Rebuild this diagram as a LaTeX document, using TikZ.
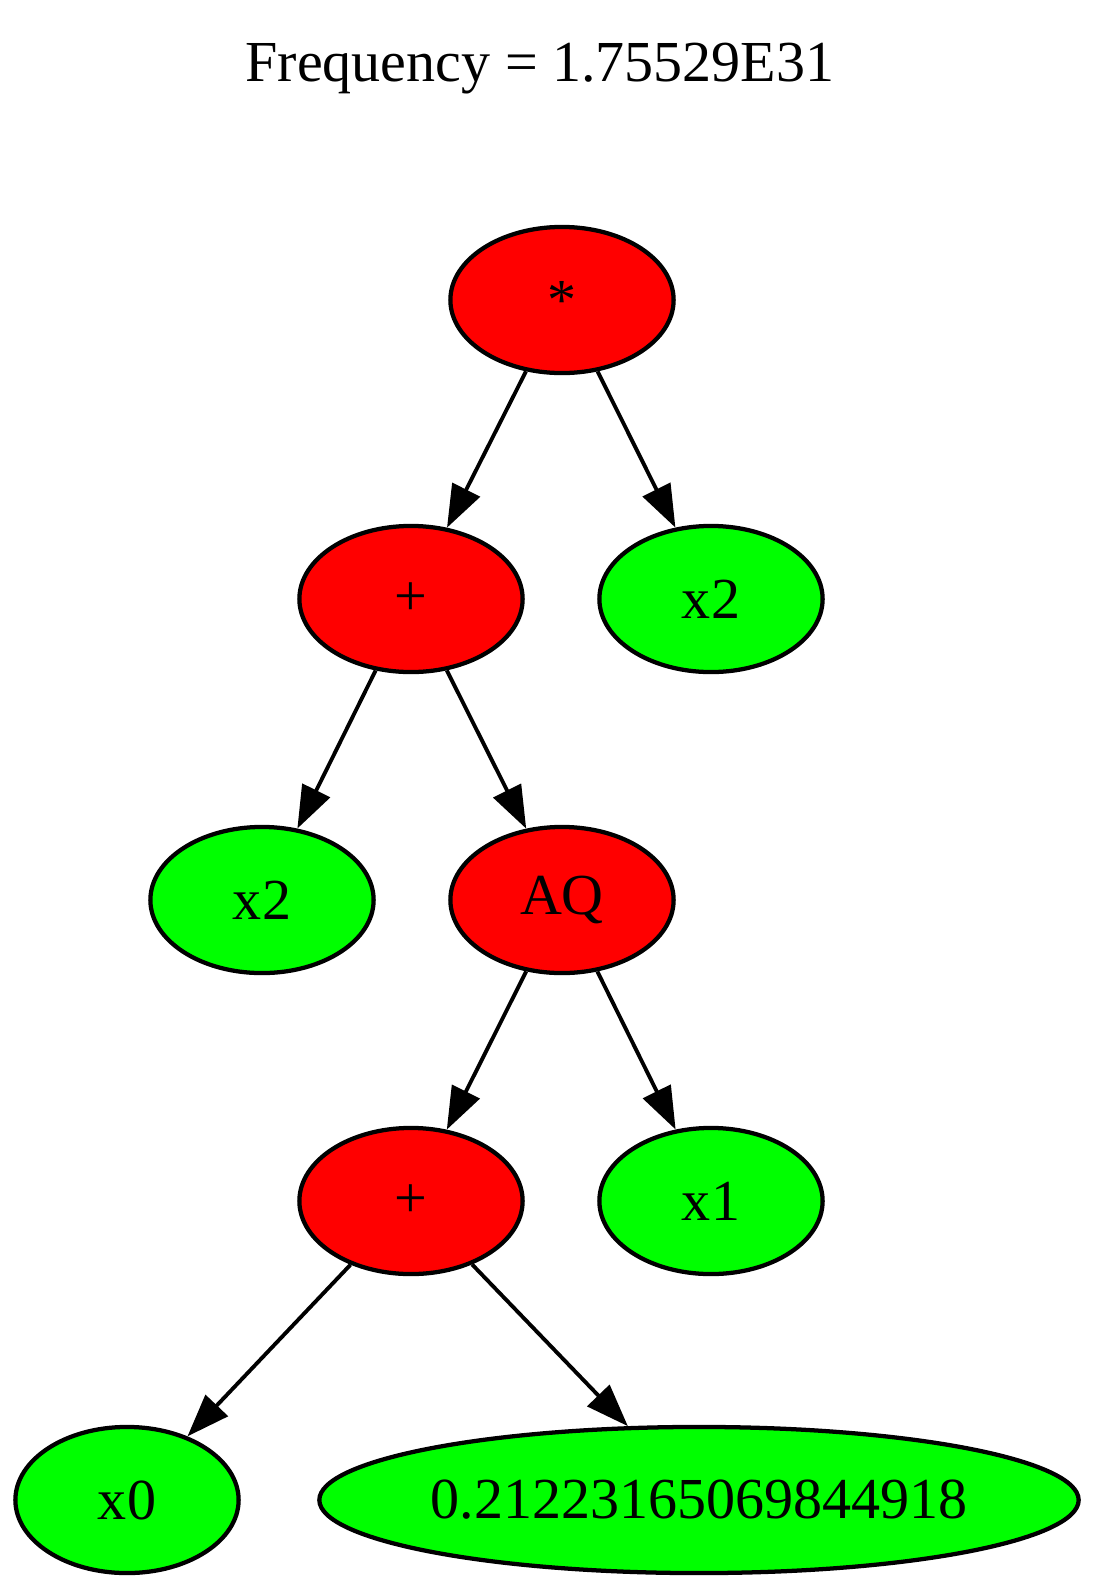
\documentclass[tikz,border=0pt]{standalone}
\usepackage{fontspec}
\setmainfont{Liberation Serif}
\usetikzlibrary{shapes.geometric,arrows.meta}
\definecolor{opred}{RGB}{255,0,0}
\definecolor{leafgreen}{RGB}{0,255,0}
\begin{document}
\begin{tikzpicture}[x=0.24636pt,y=-0.24636pt,
  labelfont/.style={font=\fontsize{14.3}{16}\selectfont},
  treenode/.style={ellipse,draw=black,line width=1.05pt,minimum width=55pt,
    minimum height=36pt,inner sep=0pt,labelfont},
  opnode/.style={treenode,fill=opred},
  leafnode/.style={treenode,fill=leafgreen},
  link/.style={line width=0.95pt,-{Triangle[length=10.5pt,width=7.5pt]}}]
\useasboundingbox (0,0) rectangle (1100,1592);

% caption
\node[anchor=base,labelfont] (title) at (540,81) {Frequency = 1.75529E31};

% expression tree
\node[opnode]   (mul)  at (562,300)  {*};
\node[opnode]   (add1) at (411,599)  {+};
\node[leafnode] (x2r)  at (711,599)  {x2};
\node[leafnode] (x2l)  at (262,900)  {x2};
\node[opnode]   (aq)   at (562,900)  {AQ};
\node[opnode]   (add2) at (411,1201) {+};
\node[leafnode] (x1)   at (711,1201) {x1};
\node[leafnode] (x0)   at (127,1500) {x0};
\node[leafnode,minimum width=186.5pt] (const) at (699,1500) {0.21223165069844918};

% edges
\draw[link] (mul)  -- (add1);
\draw[link] (mul)  -- (x2r);
\draw[link] (add1) -- (x2l);
\draw[link] (add1) -- (aq);
\draw[link] (aq)   -- (add2);
\draw[link] (aq)   -- (x1);
\draw[link] (add2) -- (x0);
\draw[link] (add2) -- (const);
\end{tikzpicture}
\end{document}
